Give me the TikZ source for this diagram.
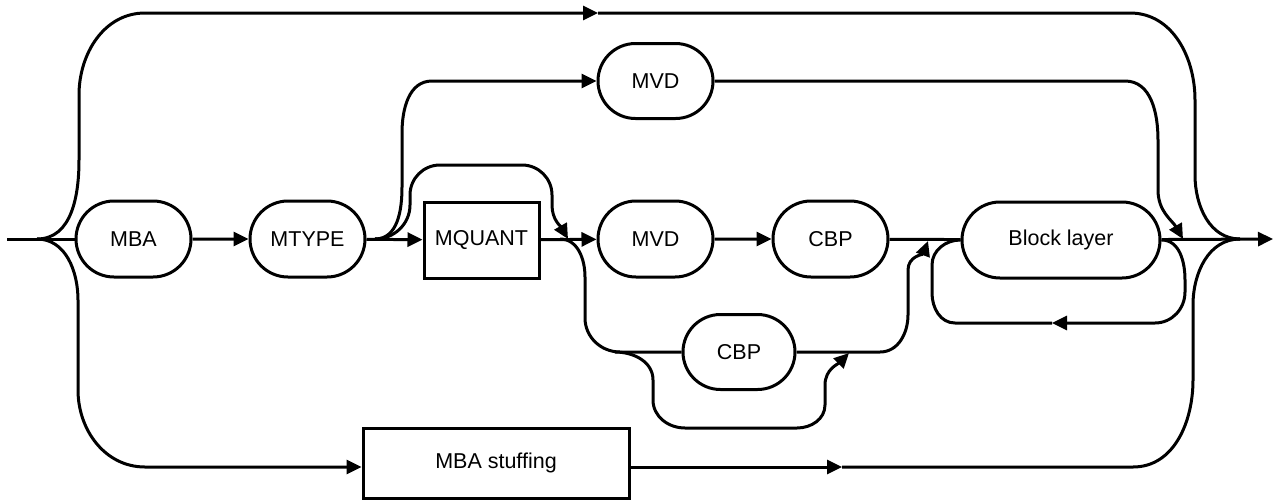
\documentclass[tikz,border=0pt]{standalone}
\usepackage{fontspec}
\setmainfont{Liberation Sans}
\usetikzlibrary{shapes.misc,arrows.meta}
\begin{document}
\begin{tikzpicture}[x=1pt,y=-1pt,
  line width=3pt,
  tip/.style={-{Triangle[length=15pt,width=14pt]}},
  term/.style={draw,rounded rectangle,minimum height=76pt,inner sep=0pt,
    font=\fontsize{21.5}{25}\selectfont},
  nonterm/.style={draw,rectangle,inner sep=0pt,font=\fontsize{21.5}{25}\selectfont},
]
\useasboundingbox (0,0) rectangle (1286,499);
% nodes
\node[term,minimum width=115pt] (MBA) at (133.5,239) {MBA};
\node[term,minimum width=115pt] (MTYPE) at (307.5,239) {MTYPE};
\node[nonterm,minimum width=115pt,minimum height=76pt] (MQUANT) at (481.5,240) {MQUANT};
\node[term,minimum width=115pt,minimum height=75pt] (MVDa) at (655.5,81) {MVD};
\node[term,minimum width=115pt] (MVDb) at (655.5,239) {MVD};
\node[term,minimum width=115pt] (CBPa) at (830.5,239) {CBP};
\node[term,minimum width=112pt,minimum height=75pt] (CBPb) at (739,352) {CBP};
\node[term,minimum width=198pt] (BL) at (1061,240) {Block layer};
\node[nonterm,minimum width=266pt,minimum height=70pt] (STUFF) at (496,463) {MBA stuffing};
% coordinates
\coordinate (in) at (7,239);
\coordinate (s1) at (37,239);
\coordinate (m1) at (1240,239);
\coordinate (out) at (1273,239);
\coordinate (s2) at (375,239);
\coordinate (s3) at (560,239);
\coordinate (s4) at (615,352);
\coordinate (t1) at (598,13);
\coordinate (sb) at (145,467);
\coordinate (b1) at (842,467);
\coordinate (j1) at (1183,239);
\coordinate (j2) at (568,239);
\coordinate (j3) at (849,353);
\coordinate (j4) at (928,241);
\coordinate (bl1) at (1052,323);
% main line
\draw (in) -- (MBA);
\draw[tip] (MBA) -- (MTYPE);
\draw[tip] (MTYPE) -- (MQUANT);
\draw[tip] (MQUANT) -- (MVDb);
\draw[tip] (MVDb) -- (CBPa);
\draw (CBPa) -- (BL);
\draw[tip] (BL) -- (out);
% top bypass
\draw[tip] (s1) to[out=0,in=-90] (79,160) -- (79,95) to[out=90,in=180] (145,13) -- (t1);
\draw (t1) -- (1130,13) to[out=0,in=90] (1195,100) -- (1195,175) to[out=-90,in=180] (m1);
% bottom bypass
\draw[tip] (s1) to[out=0,in=90] (78,300) -- (78,390) to[out=-90,in=180] (sb) -- (sb -| STUFF.west);
\draw[tip] (sb -| STUFF.east) -- (b1);
\draw (b1) -- (1133,467) to[out=0,in=-90] (1193,380) -- (1193,305) to[out=90,in=180] (m1);
% MVD upper branch
\draw[tip] (s2) to[out=0,in=-90] (402,187) -- (402,133) to[out=90,in=180] (432,81) -- (MVDa);
\draw[tip] (MVDa) -- (1125,81) to[out=0,in=90] (1158,140) -- (1158,190) to[out=-90,in=120] (j1);
% MQUANT bypass
\draw[tip] (s2) to[out=0,in=-90] (410,205) -- (410,195) to[out=90,in=180] (440,165) -- (522,165) to[out=0,in=90] (552,195) -- (552,205) to[out=-90,in=120] (j2);
% lower CBP branch
\draw (s3) to[out=0,in=90] (585,277) -- (585,318) to[out=-90,in=180] (620,352) -- (CBPb);
\draw[tip] (s4) to[out=0,in=90] (653,380) -- (653,400) to[out=-90,in=180] (685,428) -- (797,428) to[out=0,in=-90] (825,405) -- (825,385) to[out=90,in=-135] (j3);
\draw[tip] (CBPb) -- (880,352) to[out=0,in=-90] (908,315) -- (908,270) to[out=90,in=-110] (j4);
% block layer loop
\draw[tip] (BL.east) to[out=0,in=90] (1185,280) -- (1185,292) to[out=-90,in=0] (1155,323) -- (bl1);
\draw (bl1) -- (955,323) to[out=180,in=-90] (932,293) -- (932,265) to[out=90,in=180] (BL.west);
\end{tikzpicture}
\end{document}
